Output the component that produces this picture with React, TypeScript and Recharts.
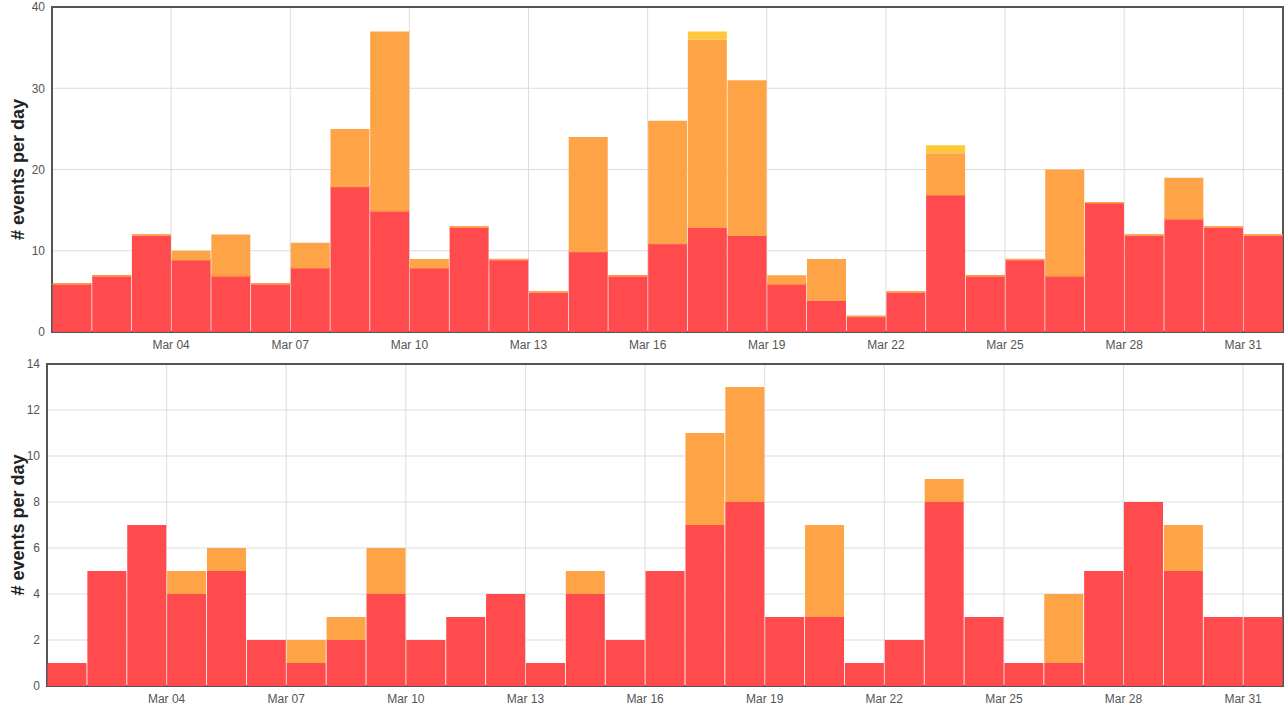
import React from 'react';
import { BarChart, Bar, XAxis, YAxis, CartesianGrid, ReferenceArea } from 'recharts';

const days = [
  'Mar 01', 'Mar 02', 'Mar 03', 'Mar 04', 'Mar 05', 'Mar 06', 'Mar 07', 'Mar 08',
  'Mar 09', 'Mar 10', 'Mar 11', 'Mar 12', 'Mar 13', 'Mar 14', 'Mar 15', 'Mar 16',
  'Mar 17', 'Mar 18', 'Mar 19', 'Mar 20', 'Mar 21', 'Mar 22', 'Mar 23', 'Mar 24',
  'Mar 25', 'Mar 26', 'Mar 27', 'Mar 28', 'Mar 29', 'Mar 30', 'Mar 31',
];

const tickDays = [3, 6, 9, 12, 15, 18, 21, 24, 27, 30];
const tickLabels = ['Mar 04', 'Mar 07', 'Mar 10', 'Mar 13', 'Mar 16', 'Mar 19', 'Mar 22', 'Mar 25', 'Mar 28', 'Mar 31'];

const topRed = [6, 7, 12, 9, 7, 6, 8, 18, 15, 8, 13, 9, 5, 10, 7, 11, 13, 12, 6, 4, 2, 5, 17, 7, 9, 7, 16, 12, 14, 13, 12];
const topOrange = [0, 0, 0, 1, 5, 0, 3, 7, 22, 1, 0, 0, 0, 14, 0, 15, 23, 19, 1, 5, 0, 0, 5, 0, 0, 13, 0, 0, 5, 0, 0];
const topYellow = [0, 0, 0, 0, 0, 0, 0, 0, 0, 0, 0, 0, 0, 0, 0, 0, 1, 0, 0, 0, 0, 0, 1, 0, 0, 0, 0, 0, 0, 0, 0];
const topYTicks = [0, 10, 20, 30, 40];

const bottomRed = [1, 5, 7, 4, 5, 2, 1, 2, 4, 2, 3, 4, 1, 4, 2, 5, 7, 8, 3, 3, 1, 2, 8, 3, 1, 1, 5, 8, 5, 3, 3];
const bottomOrange = [0, 0, 0, 1, 1, 0, 1, 1, 2, 0, 0, 0, 0, 1, 0, 0, 4, 5, 0, 4, 0, 0, 1, 0, 0, 3, 0, 0, 2, 0, 0];
const bottomYTicks = [0, 2, 4, 6, 8, 10, 12, 14];

const RED = '#ff4b4d';
const ORANGE = '#ffa347';
const YELLOW = '#ffc83a';
const BORDER = '#555555';
const GRID = '#dddddd';
const TICK = '#555555';

const buildRows = (red: number[], orange: number[], yellow?: number[]) =>
  days.map((d, i) => ({
    day: d,
    t: i + 0.5,
    red: red[i],
    orange: orange[i],
    yellow: yellow ? yellow[i] : 0,
  }));

const topRows = buildRows(topRed, topOrange, topYellow);
const bottomRows = buildRows(bottomRed, bottomOrange);

const labelFor = (v: number) => {
  const idx = tickDays.indexOf(v);
  return idx >= 0 ? tickLabels[idx] : '';
};

const RedCapShape = (props: any) => {
  const { x, y, width, height, fill } = props;
  if (!height || height <= 0) return null;
  return (
    <g>
      <rect x={x} y={y} width={width} height={height} fill={fill} />
      <line x1={x} x2={x + width} y1={y + 0.75} y2={y + 0.75} stroke={ORANGE} strokeWidth={1.5} />
    </g>
  );
};

const makeYLabel = (text: string) => (props: any) => {
  const vb = props.viewBox || {};
  const cx = (vb.x || 0) + 18;
  const cy = (vb.y || 0) + (vb.height || 0) / 2;
  return (
    <text
      x={cx}
      y={cy}
      transform={`rotate(-90, ${cx}, ${cy})`}
      textAnchor="middle"
      dominantBaseline="central"
      fontSize={18}
      fontWeight="bold"
      fill="#222"
    >
      {text}
    </text>
  );
};

type PanelProps = {
  rows: any[];
  height: number;
  marginTop: number;
  marginBottom: number;
  yWidth: number;
  yMax: number;
  yTicks: number[];
  capRed: boolean;
  withYellow: boolean;
};

const Panel = ({ rows, height, marginTop, marginBottom, yWidth, yMax, yTicks, capRed, withYellow }: PanelProps) => (
  <BarChart
    width={1285}
    height={height}
    data={rows}
    margin={{ top: marginTop, right: 2, bottom: marginBottom, left: 0 }}
    barCategoryGap={0.5}
  >
    <CartesianGrid xAxisId="num" yAxisId="y" stroke={GRID} strokeWidth={1} />
    <XAxis
      xAxisId="num"
      dataKey="t"
      type="number"
      domain={[0, 31]}
      allowDataOverflow
      ticks={tickDays}
      tickFormatter={labelFor}
      tickLine={false}
      axisLine={false}
      height={23}
      tickSize={6}
      tickMargin={2}
      tick={{ fill: TICK, fontSize: 12 }}
      interval={0}
    />
    <XAxis xAxisId="cat" dataKey="day" type="category" hide height={0} />
    <YAxis
      yAxisId="y"
      type="number"
      domain={[0, yMax]}
      ticks={yTicks}
      allowDataOverflow
      width={yWidth}
      tickLine={false}
      axisLine={false}
      tickSize={5}
      tickMargin={2}
      tick={{ fill: TICK, fontSize: 12 }}
      interval={0}
      label={{ content: makeYLabel('# events per day') }}
    />
    <Bar
      xAxisId="cat"
      yAxisId="y"
      dataKey="red"
      stackId="s"
      fill={RED}
      isAnimationActive={false}
      shape={capRed ? RedCapShape : undefined}
    />
    <Bar xAxisId="cat" yAxisId="y" dataKey="orange" stackId="s" fill={ORANGE} isAnimationActive={false} />
    {withYellow && (
      <Bar xAxisId="cat" yAxisId="y" dataKey="yellow" stackId="s" fill={YELLOW} isAnimationActive={false} />
    )}
    <ReferenceArea
      xAxisId="num"
      yAxisId="y"
      x1={0}
      x2={31}
      y1={0}
      y2={yMax}
      fill="none"
      fillOpacity={0}
      stroke={BORDER}
      strokeWidth={2}
      ifOverflow="extendDomain"
    />
  </BarChart>
);

export default function App() {
  return (
    <div
      style={{
        position: 'absolute',
        left: 0,
        top: 0,
        width: 1285,
        height: 713,
        background: '#ffffff',
        fontFamily: '"Liberation Sans", Arial, Helvetica, sans-serif',
      }}
    >
      <Panel
        rows={topRows}
        height={355}
        marginTop={7}
        marginBottom={0}
        yWidth={52}
        yMax={40}
        yTicks={topYTicks}
        capRed={true}
        withYellow={true}
      />
      <Panel
        rows={bottomRows}
        height={358}
        marginTop={9}
        marginBottom={4}
        yWidth={47}
        yMax={14}
        yTicks={bottomYTicks}
        capRed={false}
        withYellow={false}
      />
    </div>
  );
}
